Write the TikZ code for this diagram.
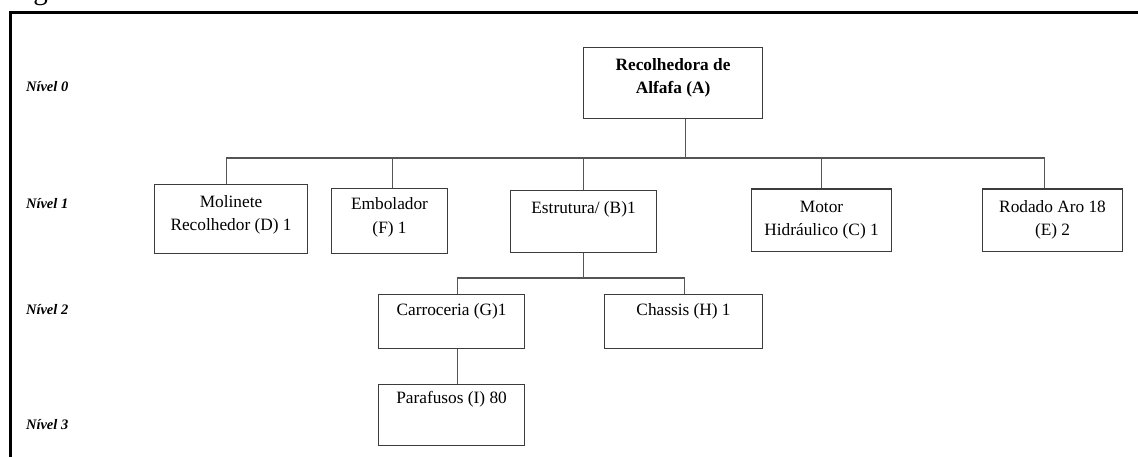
\documentclass[tikz,border=0pt]{standalone}
\usepackage{fontspec}
\setmainfont{Liberation Serif}
\definecolor{boxcol}{RGB}{60,60,60}
\definecolor{linecol}{RGB}{85,85,85}
\newcommand\boxtext[4]{\parbox[t][#2pt][t]{#1pt}{\vspace*{#3pt}\fontsize{17.3}{22.8}\selectfont\centering\strut #4}}
\begin{document}
\begin{tikzpicture}[x=1pt,y=-1pt,
  box/.style={draw=boxcol, line width=1.1pt, inner sep=0pt, anchor=north west},
  conn/.style={draw=linecol, line width=1.3pt},
  lvl/.style={anchor=base west, font=\fontsize{14.5}{16}\selectfont\bfseries\itshape},
  frame/.style={line width=2.5pt, draw=black}]
\useasboundingbox (0,0) rectangle (1138,457);
\clip (0,0) rectangle (1138,457);
\fill[white] (0,0) rectangle (1138,457);
% caption, cut off at the top
\node[anchor=base west, inner sep=0pt, font=\fontsize{29}{30}\selectfont] (cap) at (9,0) {Figura 3: Estrutura da recolhedora de Alfafa};
% frame
\coordinate (fbl) at (10.5,470);
\coordinate (ftl) at (10.5,12.5);
\coordinate (ftr) at (1150,12.5);
\draw[frame] (fbl) -- (ftl) -- (ftr);
% level labels
\node[lvl] (n0) at (22.5,92) {Nível 0};
\node[lvl] (n1) at (22.5,209) {Nível 1};
\node[lvl] (n2) at (22.5,314) {Nível 2};
\node[lvl] (n3) at (22.5,429) {Nível 3};
% boxes
\node[box] (A) at (583,47) {\boxtext{179}{71}{7}{\bfseries Recolhedora de\\Alfafa (A)}};
\node[box] (D) at (154,184) {\boxtext{153}{69}{7}{Molinete\\Recolhedor (D) 1}};
\node[box] (F) at (331,188) {\boxtext{116}{65}{5}{Embolador\\[1.5pt](F) 1}};
\node[box] (B) at (510,189.6) {\boxtext{146}{62.4}{7.4}{Estrutura/ (B)1}};
\node[box] (C) at (751,188.5) {\boxtext{140}{62.5}{7.5}{Motor\\Hidráulico (C) 1}};
\node[box] (E) at (982,188.5) {\boxtext{140}{62.5}{7.5}{Rodado Aro 18\\(E) 2}};
\node[box] (G) at (378,294) {\boxtext{146}{54}{5}{Carroceria (G)1}};
\node[box] (H) at (604,294) {\boxtext{158}{54}{5}{Chassis (H) 1}};
\node[box] (I) at (378,384) {\boxtext{146}{61}{3}{Parafusos (I) 80}};
% connectors level 0 -> 1
\draw[conn] ([xshift=12.5pt]A.south) -- ++(0,39) coordinate (bus1);
\draw[conn] (bus1) -| ([xshift=-4.5pt]D.north);
\draw[conn] (bus1) -| ([xshift=3pt]F.north);
\draw[conn] (bus1) -| (B.north);
\draw[conn] (bus1) -| (C.north);
\draw[conn] (bus1) -| ([xshift=-8pt]E.north);
% level 1 -> 2
\draw[conn] (B.south) -- ++(0,25) coordinate (bus2);
\draw[conn] (bus2) -| ([xshift=6pt]G.north);
\draw[conn] (bus2) -| ([xshift=1pt]H.north);
% level 2 -> 3
\draw[conn] ([xshift=6pt]G.south) -- ([xshift=6pt]I.north);
\end{tikzpicture}
\end{document}
